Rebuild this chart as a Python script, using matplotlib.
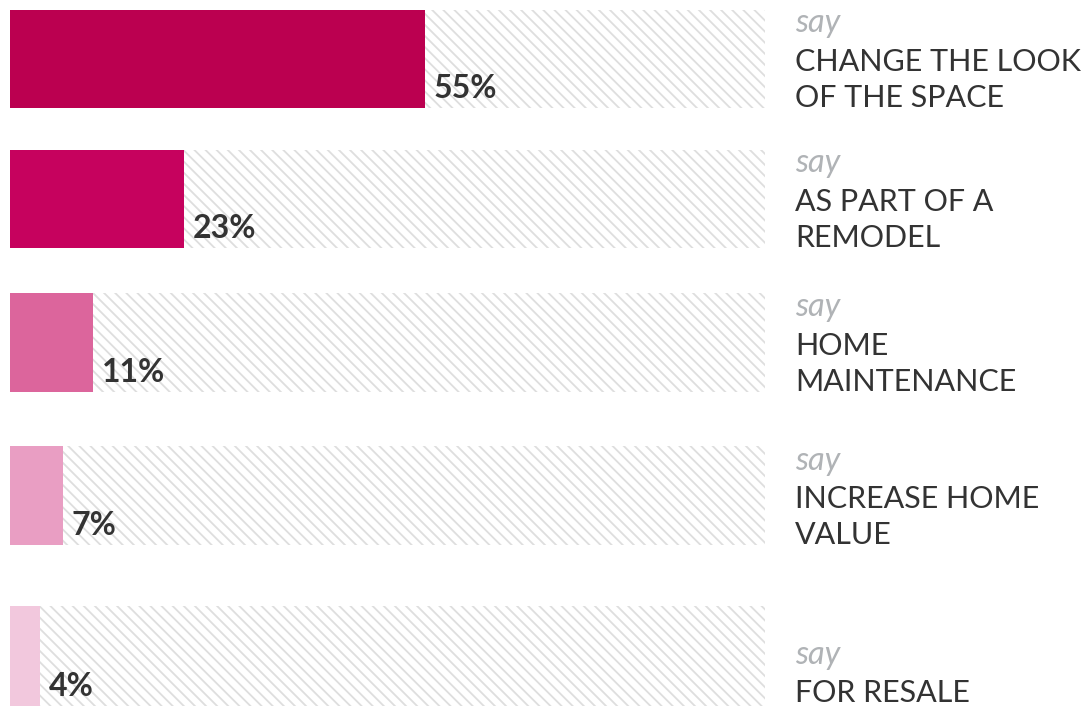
import matplotlib
matplotlib.use("Agg")
import matplotlib.pyplot as plt

# Data
categories = [["CHANGE THE LOOK", "OF THE SPACE"],
              ["AS PART OF A", "REMODEL"],
              ["HOME", "MAINTENANCE"],
              ["INCREASE HOME", "VALUE"],
              ["FOR RESALE"]]
values = [55, 23, 11, 7, 4]
value_labels = ["55%", "23%", "11%", "7%", "4%"]

# Layout / style
colors = ["#BB0050", "#C6025E", "#DC659C", "#E99EC3", "#F2C8DD"]
row_tops = [10, 150, 293, 446, 606]
row_bottoms = [108, 248, 392, 545, 706]

W, H = 1086, 706
plt.rcParams['hatch.linewidth'] = 1.3
plt.rcParams['hatch.color'] = '#dedede'

fig = plt.figure(figsize=(W / 100, H / 100), dpi=100)
fig.patch.set_facecolor('white')
x0, x1 = 10, 765
ax = fig.add_axes([x0 / W, 0, (x1 - x0) / W, 1])
ax.set_xlim(0, 100)
ax.set_ylim(H, 0)
ax.axis('off')

for i, v in enumerate(values):
    top, bot = row_tops[i], row_bottoms[i]
    h = bot - top
    yc = (top + bot) / 2
    ax.barh(yc, 100, height=h, color='white', edgecolor='#dedede',
            hatch='\\\\\\', linewidth=0)
    ax.barh(yc, v, height=h, color=colors[i], linewidth=0)
    ax.annotate(value_labels[i], xy=(v, bot - 10), xytext=(6.3, 0),
                textcoords='offset points', family='Lato', weight='bold',
                fontsize=23, color='#333333', va='baseline', ha='left')
    # right labels (in figure pixel coords)
    lines = categories[i]
    n = len(lines)
    last = min(bot - 1, H - 4)
    for j, line in enumerate(lines):
        yb = last - (n - 1 - j) * 36
        fig.text(795 / W, 1 - yb / H, line, family='Lato', fontsize=22,
                 color='#333333', va='baseline', ha='left')
    ysay = last - (n - 1) * 36 - 38.5
    fig.text(795 / W, 1 - ysay / H, "say", family='Lato', style='italic',
             fontsize=23.5, color='#b0b3b6', va='baseline', ha='left')

fig.savefig("out.png", dpi=100)
